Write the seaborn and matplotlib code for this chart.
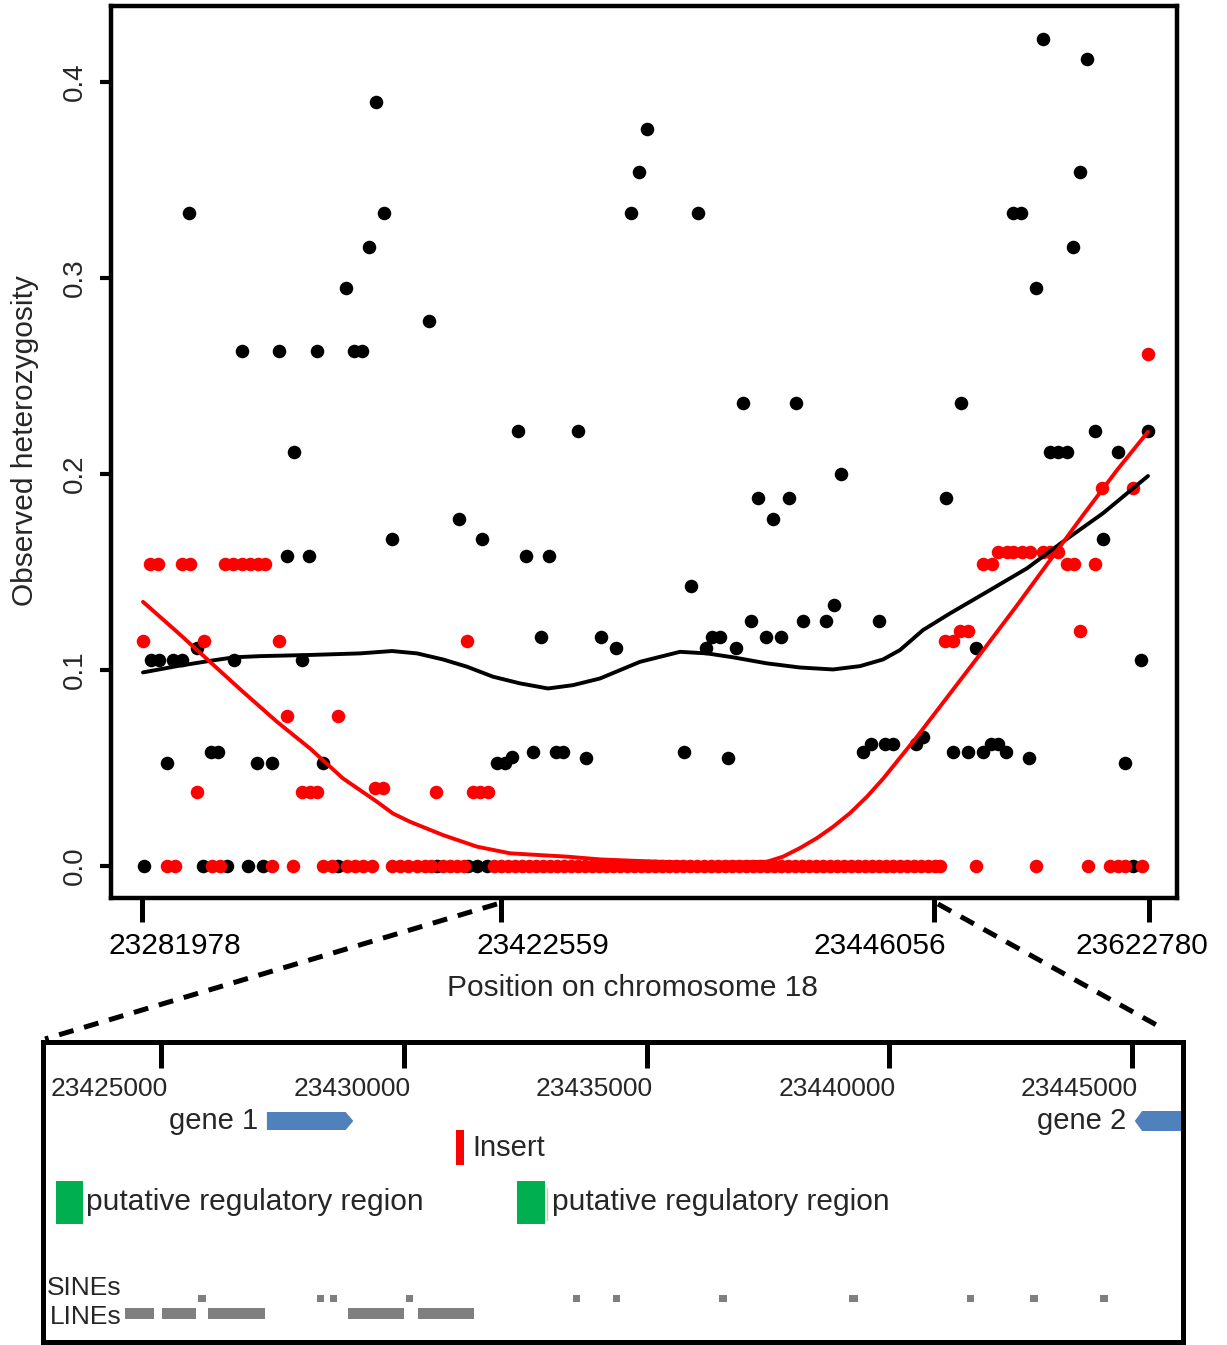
import numpy as np
import pandas as pd
import matplotlib
matplotlib.use("Agg")
import matplotlib.pyplot as plt
import seaborn as sns
from matplotlib.patches import Polygon, Rectangle
from matplotlib.lines import Line2D

# ---- top panel: observed heterozygosity along the SNP track ----
# x = relative map position along the SNP track (not linear in bp)
black_x = [234, 47, 242, 227, 204, 287, 100, 137, 175, 212, 220, 152,
           505, 497, 489, 556, 601, 654, 376, 436,
           901, 945, 938, 871, 879, 931, 894, 819, 953, 1006,
           317, 250, 340, 145, 167, 55, 9, 17, 31, 40, 92, 160,
           69, 76, 25, 115, 130, 181, 355, 363, 370, 391, 414, 421, 444, 542, 586,
           721, 729, 743, 751, 699, 616, 647, 631, 384, 407, 549, 692,
           609, 661, 684, 737, 399, 459, 570, 578, 624, 639, 474, 564, 594,
           908, 916, 925, 976, 804, 961, 834, 999,
           774, 781, 811, 826, 841, 849, 856, 864, 887, 983]
black_y = [0.390, 0.333, 0.333, 0.316, 0.295, 0.278, 0.263, 0.263, 0.263, 0.263, 0.263, 0.211,
           0.376, 0.354, 0.333, 0.333, 0.236, 0.236, 0.222, 0.222,
           0.422, 0.412, 0.354, 0.333, 0.333, 0.316, 0.295, 0.236, 0.222, 0.222,
           0.177, 0.167, 0.167, 0.158, 0.158, 0.111, 0.105, 0.105, 0.105, 0.105, 0.105, 0.105,
           0.058, 0.058, 0.0525, 0.0525, 0.0525, 0.0525, 0.0525, 0.0525, 0.0555, 0.058, 0.058, 0.058, 0.055, 0.058, 0.055,
           0.058, 0.0625, 0.0625, 0.0625, 0.200, 0.188, 0.188, 0.177, 0.158, 0.158, 0.143, 0.133,
           0.125, 0.125, 0.125, 0.125, 0.117, 0.117, 0.117, 0.117, 0.117, 0.117, 0.111, 0.111, 0.111,
           0.211, 0.211, 0.211, 0.211, 0.188, 0.167, 0.111, 0.105,
           0.0625, 0.066, 0.058, 0.058, 0.058, 0.0625, 0.0625, 0.058, 0.055, 0.0525]
black_zero_x = [2, 61, 85, 106, 121, 196, 295, 326, 335, 345, 991]

red_x = [1, 8, 16, 40, 48, 83, 91, 100, 108, 116, 123, 62, 137, 325, 145, 196,
         55, 160, 168, 175, 294, 331, 338, 346, 233, 241,
         1006, 960, 991, 856, 865, 871, 880, 888, 901, 908, 916,
         841, 850, 925, 932, 953, 938, 818, 826, 803, 811]
red_y = [0.115, 0.154, 0.154, 0.154, 0.154, 0.154, 0.154, 0.154, 0.154, 0.154, 0.154,
         0.115, 0.115, 0.115, 0.0765, 0.0765,
         0.038, 0.038, 0.038, 0.038, 0.038, 0.038, 0.038, 0.038, 0.040, 0.040,
         0.261, 0.193, 0.193, 0.160, 0.160, 0.160, 0.160, 0.160, 0.160, 0.160, 0.160,
         0.154, 0.154, 0.154, 0.154, 0.154, 0.120, 0.120, 0.120, 0.115, 0.115]
red_zero_x = [25, 33, 70, 78, 130, 151, 181, 190, 205, 213, 221, 230, 250, 258, 266,
              275, 283, 289, 301, 308, 315, 322,
              352, 359, 366, 373, 380, 387, 394, 401, 408, 415, 422, 429, 436, 443,
              450, 457, 464, 471, 478, 485, 492, 499, 506, 513, 520, 527, 534, 541,
              548, 555, 562, 569, 576, 583, 590, 597, 604, 611, 618, 625, 632, 639,
              646, 653, 660, 667, 674, 681, 688, 695, 702, 709, 716, 723, 730, 737,
              744, 751, 758, 765, 772, 779, 786, 793, 798,
              834, 894, 946, 968, 976, 983, 1000]

# smoothed trends
black_fit_x = [1, 35, 68, 92, 118, 168, 218, 250, 275, 301, 325, 351, 378, 406, 431,
               458, 498, 538, 565, 591, 625, 658, 691, 718, 741, 758, 781, 808, 848,
               885, 921, 961, 1006]
black_fit_y = [0.0988, 0.102, 0.1047, 0.1065, 0.1071, 0.1077, 0.1085, 0.1097, 0.1085,
               0.1054, 0.1017, 0.0966, 0.0932, 0.0906, 0.0923, 0.0957, 0.1042, 0.1093,
               0.1085, 0.1065, 0.1034, 0.1013, 0.1003, 0.102, 0.1054, 0.1102, 0.1204,
               0.1289, 0.1408, 0.1519, 0.1655, 0.18, 0.199]
red_fit_x = [1, 35, 68, 101, 135, 168, 201, 235, 251, 268, 301, 335, 368, 391, 425,
             458, 491, 558, 625, 641, 658, 675, 691, 708, 725, 741, 775, 808, 841,
             875, 908, 941, 975, 1006]
red_fit_y = [0.1348, 0.1195, 0.1042, 0.0889, 0.0736, 0.060, 0.0447, 0.0328, 0.0268,
             0.0226, 0.0158, 0.0099, 0.0065, 0.0058, 0.0048, 0.0034, 0.0027, 0.0015,
             0.0022, 0.0048, 0.0092, 0.0143, 0.020, 0.027, 0.0354, 0.0445, 0.066,
             0.088, 0.110, 0.133, 0.156, 0.179, 0.202, 0.2216]

snp_ticks = [0, 359, 792, 1007]
snp_tick_labels = ["23281978", "23422559", "23446056", "23622780"]
snp_label_pos = [33, 401, 738, 1000]

# ---- bottom panel: zoomed region annotation (bp) ----
zoom_start, zoom_end = 23422559, 23446056
bp_ticks = [23425000, 23430000, 23435000, 23440000, 23445000]
sine_start = [23425745, 23428209, 23428478, 23430031, 23433489, 23434317,
              23436491, 23439182, 23441605, 23442909, 23444337]
sine_end = [23425911, 23428354, 23428623, 23430176, 23433634, 23434462,
            23436656, 23439348, 23441750, 23443075, 23444503]
line_start = [23424255, 23425021, 23425952, 23428851, 23430280]
line_end = [23424855, 23425704, 23427132, 23429990, 23431439]
reg_start = [23422826, 23432329]
reg_end = [23423375, 23432909]
insert_start, insert_end = 23431066, 23431232
gene1 = (23427174, 23428797, 23428955)   # start, head start, tip (forward)
gene2 = (23445062, 23445212, 23446400)   # tip, head end, end (reverse)

sns.set_theme(style="white")
plt.rcParams["font.family"] = ["Liberation Sans", "DejaVu Sans"]

fig = plt.figure(figsize=(12.27, 13.45), dpi=100)
W, H = 1227, 1345

ax = fig.add_axes([111 / W, 1 - 898 / H, 1066 / W, 892 / H])
blk = pd.DataFrame({"x": black_x + black_zero_x,
                    "y": black_y + [0.0] * len(black_zero_x)})
red = pd.DataFrame({"x": red_x + red_zero_x,
                    "y": red_y + [0.0] * len(red_zero_x)})
sns.scatterplot(data=blk, x="x", y="y", color="black", s=95, linewidth=0, ax=ax)
sns.scatterplot(data=red, x="x", y="y", color="#ff0000", s=95, linewidth=0, ax=ax)
sns.lineplot(x=black_fit_x, y=black_fit_y, color="black", lw=2.8, ax=ax)
sns.lineplot(x=red_fit_x, y=red_fit_y, color="#ff0000", lw=2.8, ax=ax)

ax.set_xlim(-31, 1035)
ax.set_ylim(-0.0163, 0.4388)
ax.set_xlabel("")
ax.set_ylabel("")
for sp in ax.spines.values():
    sp.set_visible(True)
    sp.set_color("black")
    sp.set_linewidth(3.2)
ax.set_xticks(snp_ticks)
ax.set_xticklabels([])
ax.tick_params(axis="x", bottom=True, direction="out", length=17, width=3.6, color="black")
ax.set_yticks([0.0, 0.1, 0.2, 0.3, 0.4])
ax.set_yticklabels(["0.0", "0.1", "0.2", "0.3", "0.4"], fontsize=20)
ax.tick_params(axis="y", left=True, direction="out", length=8, width=3, pad=9, color="black")
plt.setp(ax.get_yticklabels(), rotation=90, va="center")
for xp, lab in zip(snp_label_pos, snp_tick_labels):
    ax.text(xp, -0.054, lab, transform=ax.get_xaxis_transform(), ha="center",
            va="center", fontsize=21.5, color="black")
fig.text(632 / W, 1 - 988 / H, "Position on chromosome 18", ha="center", va="center",
         fontsize=21.5)
fig.text(25 / W, 1 - 441 / H, "Observed heterozygosity", ha="center", va="center",
         rotation=90, fontsize=21.5)

# ---- bottom panel ----
ax2 = fig.add_axes([43 / W, 1 - 1342 / H, 1140 / W, 300 / H])
ax2.set_xlim(zoom_start, zoom_end)
ax2.set_ylim(0, 300)
for sp in ax2.spines.values():
    sp.set_visible(True)
    sp.set_color("black")
    sp.set_linewidth(3.6)
ax2.set_yticks([])
ax2.set_xticks(bp_ticks)
ax2.tick_params(axis="x", top=True, bottom=False, direction="in", length=19, width=3.6,
                labeltop=False, labelbottom=False, color="black")
for t in bp_ticks:
    ax2.text(t + 130, 253, str(t), ha="right", va="center", fontsize=19)

gene_blue = "#4f81bd"
g0, gh, gt = gene1
ax2.add_patch(Polygon([(g0, 212), (gh, 212), (gt, 221), (gh, 230), (g0, 230)],
                      closed=True, color=gene_blue, lw=0))
ax2.text(23426988, 221, "gene 1", ha="right", va="center", fontsize=21)
t2, h2, e2 = gene2
ax2.add_patch(Polygon([(t2, 221), (h2, 211), (e2, 211), (e2, 231), (h2, 231)],
                      closed=True, color=gene_blue, lw=0))
ax2.text(23444896, 221, "gene 2", ha="right", va="center", fontsize=21)

ax2.add_patch(Rectangle((insert_start, 177), insert_end - insert_start, 35,
                        color="#ff0000", lw=0))
ax2.text(23431418, 194, "Insert", ha="left", va="center", fontsize=21)

ax2.broken_barh([(s, e - s) for s, e in zip(reg_start, reg_end)], (118, 43),
                color="#00b050", lw=0)
ax2.plot([23432950, 23432950], [122, 154], color="#e8c39e", lw=1)
ax2.text(23423447, 140, "putative regulatory region", ha="left", va="center", fontsize=21.5)
ax2.text(23433054, 140, "putative regulatory region", ha="left", va="center", fontsize=21.5)

ax2.broken_barh([(s, e - s) for s, e in zip(sine_start, sine_end)], (40, 7),
                color="#7f7f7f", lw=0)
ax2.broken_barh([(s, e - s) for s, e in zip(line_start, line_end)], (23, 11),
                color="#7f7f7f", lw=0)
ax2.text(23424172, 54, "SINEs", ha="right", va="center", fontsize=19)
ax2.text(23424172, 25, "LINEs", ha="right", va="center", fontsize=19)

# dashed zoom guides
for (x0, y0), (x1, y1) in [((497, 904), (45, 1039)), ((938, 904), (1162, 1028))]:
    fig.add_artist(Line2D([x0 / W, x1 / W], [1 - y0 / H, 1 - y1 / H], transform=fig.transFigure,
                          color="black", lw=3.6, linestyle=(0, (3, 2.2))))

fig.savefig("out.png", dpi=100)
